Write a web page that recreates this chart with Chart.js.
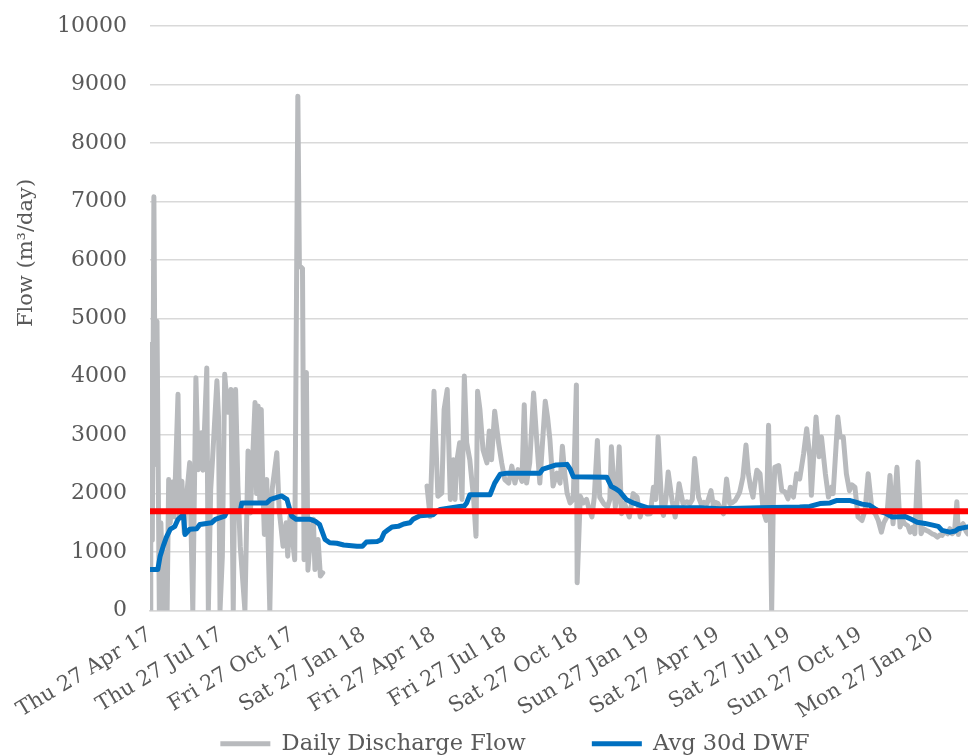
<!DOCTYPE html>
<html>
<head>
<meta charset="utf-8">
<title>Daily Discharge Flow vs Avg 30d DWF</title>
<script src="https://cdn.jsdelivr.net/npm/chart.js@4.4.1/dist/chart.umd.min.js"></script>
<style>
  html, body { margin: 0; padding: 0; background: #fff; overflow: hidden; }
  #wrap { width: 1030px; height: 765px; }
</style>
</head>
<body>
<div id="wrap"><canvas id="flow-chart" width="1030" height="765"></canvas></div>
<script>
/* ─── Data (days counted from Thu 27 Apr 2017) ─────────────────────────────── */

const tickDays   = [0, 91, 183, 275, 365, 456, 548, 640, 730, 821, 913, 1005];
const tickLabels = ['Thu 27 Apr 17', 'Thu 27 Jul 17', 'Fri 27 Oct 17', 'Sat 27 Jan 18',
                    'Fri 27 Apr 18', 'Fri 27 Jul 18', 'Sat 27 Oct 18', 'Sun 27 Jan 19',
                    'Sat 27 Apr 19', 'Sat 27 Jul 19', 'Sun 27 Oct 19', 'Mon 27 Jan 20'];

// Daily Discharge Flow (m3/day); null = no readings
const flowDays = [
  // 2017
  0, 1, 3, 5, 7, 9, 12, 14, 17, 19, 22, 24, 26, 29, 31, 36, 38, 41, 44, 46, 51, 55, 59, 62,
  66, 68, 73, 75, 78, 80, 86, 88, 90, 93, 96, 100, 104, 107, 110, 113, 116, 122, 126, 129,
  135, 137, 139, 141, 143, 145, 147, 150, 152, 154, 157, 163, 166, 171, 175, 177, 180, 186,
  190, 192, 196, 198, 201, 203, 206, 210, 212, 216, 219, 222,
  290,
  // 2018 onwards
  356, 360, 365, 370, 375, 378, 382, 386, 390, 392, 394, 398, 401, 404, 407, 411, 416, 419,
  421, 424, 428, 433, 436, 439, 443, 448, 452, 456, 461, 465, 469, 473, 478, 481, 484, 488,
  493, 497, 501, 508, 511, 514, 518, 523, 527, 530, 533, 536, 540, 544, 548, 549, 553, 557,
  561,
  564, 568, 571, 575, 578, 583, 588, 591, 593, 598, 600, 603, 606, 610, 616, 618, 621, 626,
  630, 633, 636, 639, 643, 647, 650, 653, 658, 660, 663, 666, 671, 675, 677, 680, 685, 690,
  694, 697, 700, 705, 709, 712, 716, 721, 724, 727, 730, 733, 737, 741, 745, 749, 752, 755,
  758, 762, 766, 769, 772, 775, 777, 780, 784, 788, 792, 795, 797, 799, 801, 803, 808, 812,
  816, 820, 823, 827, 831, 835, 840, 844, 848, 850, 856, 860, 863, 868, 872, 876, 878, 884,
  887, 891, 895, 899, 902, 906, 910, 915, 919, 923, 928, 932, 936, 940, 943, 947, 951, 955,
  960, 964, 967, 970, 974, 977, 980, 983, 987, 991, 994, 998, 1001, 1005, 1008, 1012, 1015,
  1018, 1021, 1025, 1028, 1031, 1034, 1037, 1039, 1041, 1045, 1049, 1051
];
const flowM3 = [
  // 2017
  0, 4550, 1200, 7080, 2500, 4950, 0, 1500, 0, 1000, 0, 2240, 1500, 2200, 1600, 3700, 1600, 2210,
  1330, 1800, 2530, 0, 3980, 2410, 3040, 2400, 4150, 0, 2070, 2500, 3930, 3330, 0, 930, 4040, 3390,
  3780, 0, 3780, 2130, 1100, 0, 2730, 1670,
  3560, 2000, 3500, 1900, 3440, 2130, 1300, 2240, 1100, 0, 2070, 2700, 1730, 1100, 1500, 930,
  1615, 870, 8800, 5900, 5850, 870, 4070, 690, 1215, 1560, 700, 1215, 590, 645,
  null,
  // 2018 onwards
  2130, 1610, 3750, 1955, 2010, 3440, 3780, 1900, 2580, 1900, 2525, 2870, 1900, 4010, 2870, 2580,
  1900, 1270, 3750, 3440, 2750, 2525, 3070, 2580, 3410, 2870, 2525, 2240, 2180, 2470, 2180, 2410,
  2210, 3520, 2180, 2525, 3720, 2920, 2180, 3580, 3300, 2920, 2130, 2350, 2180, 2810, 2350, 2010,
  1840, 1900, 3860, 473, 1955, 1840, 1900,
  1750, 1600, 1940, 2910, 1940, 1830, 1770, 1900, 2800, 1770, 1900, 2800, 1655, 1830, 1600, 1750,
  2000, 1940, 1600, 1750, 1710, 1650, 1655, 2110, 1900, 2970, 1710, 1627, 1900, 2370, 1880, 1600,
  1800, 2170, 1830, 1860, 1830, 1900, 2600, 1940, 1800, 1850, 1830, 2050, 1800, 1850, 1830, 1750,
  1655, 2250, 1830, 1850, 1880, 1950, 2030, 2280, 2830, 2340, 2100, 1940, 2150, 2400, 2340, 1710,
  1540, 3170, 1800, 0, 1800, 2450, 2480, 2050, 2030, 1910, 2110, 1940, 2340, 2250, 2680, 3110,
  2630, 1970, 3310, 2630, 2970, 2340, 1940, 2110, 2000, 3310, 2970, 2970, 2340, 2050, 2150, 2110,
  1600, 1540, 1710, 2340, 1710, 1655, 1540, 1340, 1500, 1600, 2310, 1484, 2450, 1427, 1550, 1484,
  1450, 1340, 1420, 1313, 2540, 1313, 1400, 1370, 1350, 1313, 1300, 1255, 1290, 1285, 1350, 1313,
  1400, 1313, 1350, 1860, 1300, 1427, 1484, 1350, 1313
];

// Avg 30d DWF (m3/day)
const dwfDays = [
  0, 10, 13, 17, 21, 26, 32, 36, 43, 45, 51, 60, 64, 79, 84, 96, 99, 116, 118, 150,
  155, 169, 176, 182, 188, 206, 212, 218, 225, 231, 240, 249, 266, 273, 278, 292, 297, 301, 306, 311,
  319, 326, 334, 338, 347, 364, 369, 373, 398, 404, 407, 411, 437, 443, 450, 459, 501, 505, 522, 536,
  540, 544, 587, 593, 599, 604, 612, 621, 630, 639, 707, 733, 784, 835, 848, 861, 874, 882, 900, 907,
  915, 925, 932, 937, 946, 954, 970, 977, 986, 996, 1006, 1013, 1018, 1028, 1035, 1039, 1051
];
const dwfM3 = [
  700, 700, 930, 1100, 1250, 1390, 1440, 1560, 1640, 1300, 1390, 1400, 1470, 1500, 1560, 1615, 1700, 1700, 1840, 1840,
  1900, 1960, 1900, 1615, 1560, 1560, 1530, 1470, 1215, 1160, 1150, 1120, 1100, 1100, 1170, 1180, 1210, 1330, 1380, 1430,
  1440, 1480, 1500, 1560, 1620, 1640, 1700, 1730, 1780, 1790, 1840, 1980, 1980, 2180, 2330, 2350, 2350, 2420, 2490, 2500,
  2420, 2290, 2280, 2120, 2080, 2030, 1900, 1840, 1800, 1760, 1760, 1740, 1760, 1770, 1780, 1830, 1840, 1880, 1880, 1855,
  1820, 1800, 1740, 1700, 1660, 1600, 1610, 1570, 1510, 1490, 1460, 1440, 1370, 1340, 1360, 1400, 1430
];

const thresholdM3 = 1700;          // red reference line
const X_MIN = 0;
const X_MAX = 1131;                // chart runs past the cropped right edge
const Y_TITLE = 'Flow (m³/day)';

/* ─── Styles ────────────────────────────────────────────────────────────────── */

const FONT       = 'DejaVu Serif';
const TEXT_COLOR = '#595959';
const GRID_COLOR = '#d9d9d9';
const GREY       = '#b8babd';
const BLUE       = '#0070c0';
const RED        = '#ff0000';

Chart.defaults.font.family = FONT;
Chart.defaults.color       = TEXT_COLOR;

const toPoints = (xs, ys) => xs.map((x, i) => ({ x, y: ys[i] }));

/* ─── Y axis title, placed like the original ────────────────────────────────── */

const yTitlePlugin = {
  id: 'yTitle',
  afterDraw(chart) {
    const ctx = chart.ctx;
    ctx.save();
    ctx.translate(27, 253);
    ctx.rotate(-Math.PI / 2);
    ctx.font = `21px "${FONT}"`;
    ctx.fillStyle = TEXT_COLOR;
    ctx.textAlign = 'center';
    ctx.textBaseline = 'middle';
    ctx.fillText(Y_TITLE, 0, 0);
    ctx.restore();
  },
};

/* ─── Chart ─────────────────────────────────────────────────────────────────── */

const lineStyle = {
  pointRadius: 0,
  pointHoverRadius: 0,
  tension: 0,
  borderJoinStyle: 'round',
  borderCapStyle: 'round',
};

new Chart(document.getElementById('flow-chart').getContext('2d'), {
  type: 'line',
  data: {
    datasets: [
      {
        label: 'Daily Discharge Flow',
        data: toPoints(flowDays, flowM3),
        borderColor: GREY,
        backgroundColor: GREY,
        borderWidth: 5,
        spanGaps: false,
        order: 3,
        ...lineStyle,
      },
      {
        label: 'Avg 30d DWF',
        data: toPoints(dwfDays, dwfM3),
        borderColor: BLUE,
        backgroundColor: BLUE,
        borderWidth: 5,
        order: 2,
        ...lineStyle,
      },
      {
        label: 'Threshold',
        data: toPoints([X_MIN, X_MAX], [thresholdM3, thresholdM3]),
        borderColor: RED,
        backgroundColor: RED,
        borderWidth: 6,
        order: 1,
        ...lineStyle,
        borderCapStyle: 'butt',
      },
    ],
  },
  options: {
    responsive: false,
    animation: false,
    devicePixelRatio: 1,
    layout: { padding: { left: 0, right: 0, top: 26, bottom: 0 } },
    plugins: {
      tooltip: { enabled: false },
      legend: {
        position: 'bottom',
        align: 'center',
        labels: {
          filter: item => item.datasetIndex !== 2,
          sort: (a, b) => a.datasetIndex - b.datasetIndex,
          usePointStyle: true,
          pointStyle: 'line',
          pointStyleWidth: 50,
          padding: 66,
          color: TEXT_COLOR,
          font: { size: 22.5, family: FONT },
        },
      },
    },
    scales: {
      x: {
        type: 'linear',
        min: X_MIN,
        max: X_MAX,
        afterBuildTicks: scale => { scale.ticks = tickDays.map(v => ({ value: v })); },
        afterFit: scale => {
          scale.height = 56;
          scale._computeLabelArea = () => undefined;   // let rotated labels spill below the box
        },
        ticks: {
          autoSkip: false,
          minRotation: 31,
          maxRotation: 31,
          padding: 4,
          color: TEXT_COLOR,
          font: { size: 21, family: FONT },
          callback: (value, index) => tickLabels[index],
        },
        grid: { display: false },
        border: { display: true, color: GRID_COLOR, width: 1.5 },
      },
      y: {
        min: 0,
        max: 10000,
        afterFit: scale => { scale.width = 150; },
        ticks: {
          stepSize: 1000,
          padding: 23,
          color: TEXT_COLOR,
          font: { size: 22, family: FONT, lineHeight: 0.2 },
          callback: v => String(v),
        },
        grid: { color: GRID_COLOR, lineWidth: 1.5, drawTicks: false },
        border: { display: false },
      },
    },
  },
  plugins: [yTitlePlugin],
});
</script>
</body>
</html>
